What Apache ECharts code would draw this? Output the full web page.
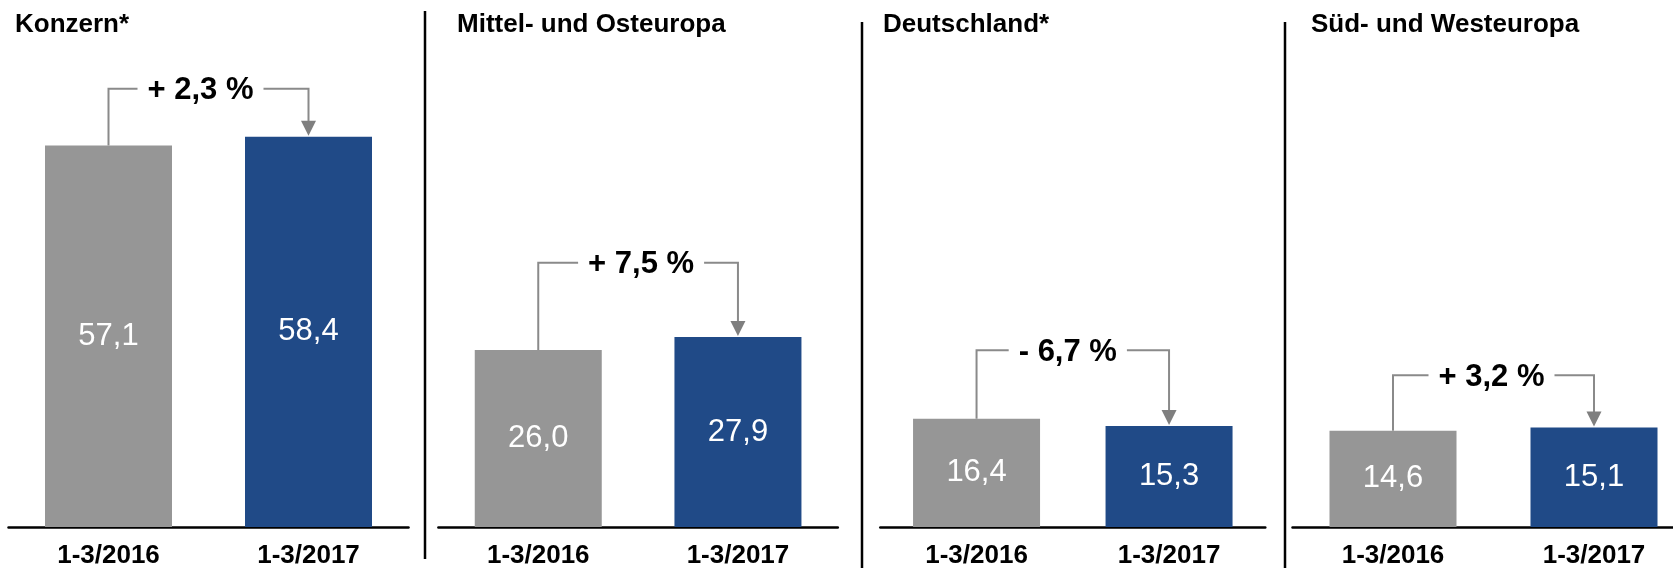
<!DOCTYPE html>
<html>
<head>
<meta charset="utf-8">
<title>Umsatz 1-3/2017</title>
<style>
	html, body { margin: 0; padding: 0; background: #fff; }
	#chart { width: 1673px; height: 568px; }
</style>
<script src="https://cdn.jsdelivr.net/npm/echarts@6/dist/echarts.min.js"></script>
</head>
<body>
<div id="chart"></div>
<script>
	// data
	const panels = ['Konzern*', 'Mittel- und Osteuropa', 'Deutschland*', 'Süd- und Westeuropa']
	const periods = ['1-3/2016', '1-3/2017']
	const values2016 = [57.1, 26.0, 16.4, 14.6]
	const values2017 = [58.4, 27.9, 15.3, 15.1]
	const changes = ['+ 2,3 %', '+ 7,5 %', '- 6,7 %', '+ 3,2 %']

	// layout per panel (pixels / axis max / level of the change bracket)
	const layout = [
		{ left: 8.5, width: 400, yMax: 69.9, bracketAt: 65.6, textShift: -8, titleLeft: 15 },
		{ left: 438.4, width: 399.4, yMax: 68.6, bracketAt: 38.8, textShift: 3, titleLeft: 457 },
		{ left: 880.3, width: 385, yMax: 70.8, bracketAt: 26.8, textShift: -5, titleLeft: 883 },
		{ left: 1292.5, width: 402, yMax: 70.8, bracketAt: 23.0, textShift: -2, titleLeft: 1311 }
	]

	const FONT = '"Liberation Sans", Arial, Helvetica, sans-serif'
	const GRAY = '#969696'
	const BLUE = '#204a87'
	const LINE = '#8a8a8a'

	const measure = document.createElement('canvas').getContext('2d')
	measure.font = 'bold 31px "Liberation Sans", Arial, sans-serif'

	const fmt = v => v.toFixed(1).replace('.', ',')

	const chart = echarts.init(document.getElementById('chart'))

	const grid = [], xAxis = [], yAxis = [], title = [], series = []

	panels.forEach((name, i) => {
		const l = layout[i]
		grid.push({ left: l.left, width: l.width, top: 60, bottom: 41, outerBoundsMode: 'none' })
		title.push({
			text: name,
			left: l.titleLeft,
			top: 12,
			padding: 0,
			textStyle: { fontFamily: FONT, fontWeight: 'bold', fontSize: 26, color: '#000' }
		})
		xAxis.push({
			type: 'category',
			gridIndex: i,
			data: periods,
			axisLine: { lineStyle: { color: '#000', width: 2.5 } },
			axisTick: { show: false },
			axisLabel: {
				margin: 16,
				fontFamily: FONT,
				fontWeight: 'bold',
				fontSize: 26,
				color: '#000'
			}
		})
		yAxis.push({
			type: 'value',
			gridIndex: i,
			min: 0,
			max: l.yMax,
			show: false,
			splitLine: { show: false }
		})
		series.push({
			type: 'bar',
			xAxisIndex: i,
			yAxisIndex: i,
			barWidth: 127,
			data: [
				{ value: values2016[i], itemStyle: { color: GRAY } },
				{ value: values2017[i], itemStyle: { color: BLUE } }
			],
			label: {
				show: true,
				position: 'inside',
				formatter: p => fmt(p.value),
				fontFamily: FONT,
				fontSize: 31,
				color: '#fff'
			}
		})
		// change bracket with arrow from first bar to second bar
		series.push({
			type: 'custom',
			xAxisIndex: i,
			yAxisIndex: i,
			clip: false,
			silent: true,
			data: [[0, l.bracketAt]],
			renderItem: (params, api) => {
				const lvl = api.value(1)
				const p0 = api.coord([0, values2016[i]])
				const p1 = api.coord([1, values2017[i]])
				const y = api.coord([0, lvl])[1]
				const xm = (p0[0] + p1[0]) / 2 + l.textShift
				const tw = measure.measureText(changes[i]).width
				const gap = 10
				const ah = 15
				return {
					type: 'group',
					children: [
						{
							type: 'polyline',
							shape: { points: [[p0[0], p0[1]], [p0[0], y], [xm - tw / 2 - gap, y]] },
							style: { stroke: LINE, lineWidth: 2, fill: null }
						},
						{
							type: 'polyline',
							shape: { points: [[xm + tw / 2 + gap, y], [p1[0], y], [p1[0], p1[1] - ah]] },
							style: { stroke: LINE, lineWidth: 2, fill: null }
						},
						{
							type: 'polygon',
							shape: { points: [[p1[0] - 7.5, p1[1] - ah - 1], [p1[0] + 7.5, p1[1] - ah - 1], [p1[0], p1[1] - 1]] },
							style: { fill: '#7f7f7f' }
						},
						{
							type: 'text',
							x: xm,
							y: y + 2,
							style: {
								text: changes[i],
								fontFamily: FONT,
								fontWeight: 'bold',
								fontSize: 31,
								fill: '#000',
								align: 'center',
								verticalAlign: 'middle'
							}
						}
					]
				}
			}
		})
	})

	chart.setOption({
		backgroundColor: '#fff',
		animation: false,
		title: title,
		grid: grid,
		xAxis: xAxis,
		yAxis: yAxis,
		series: series,
		graphic: [
			{ type: 'line', shape: { x1: 425, y1: 11, x2: 425, y2: 559 }, style: { stroke: '#000', lineWidth: 2.5 } },
			{ type: 'line', shape: { x1: 862, y1: 22, x2: 862, y2: 568 }, style: { stroke: '#000', lineWidth: 2.5 } },
			{ type: 'line', shape: { x1: 1285, y1: 22, x2: 1285, y2: 568 }, style: { stroke: '#000', lineWidth: 2.5 } }
		]
	})
</script>
</body>
</html>
